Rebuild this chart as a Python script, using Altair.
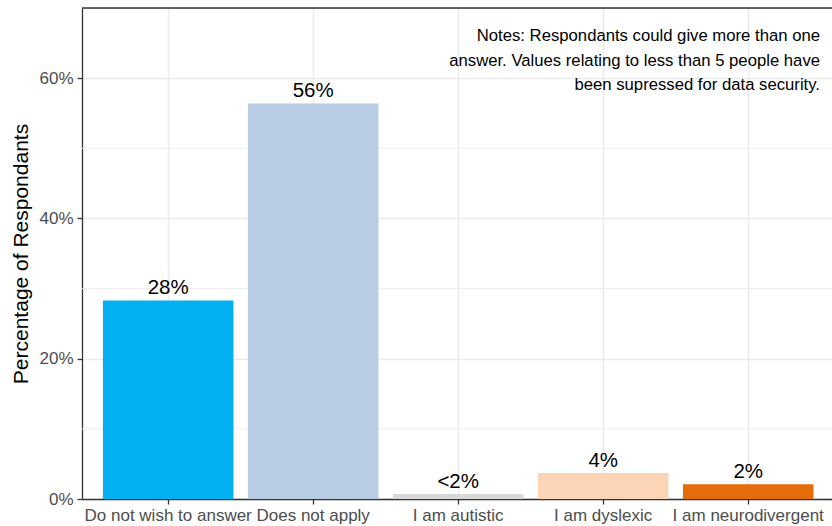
import altair as alt
import pandas as pd

categories = ["Do not wish to answer", "Does not apply", "I am autistic",
              "I am dyslexic", "I am neurodivergent"]
values = [0.283, 0.564, 0.007, 0.037, 0.021]
labels = ["28%", "56%", "<2%", "4%", "2%"]
colors = ["#00B0F0", "#B8CCE4", "#D9D9D9", "#FBD5B5", "#E46C0A"]
major_breaks = [0, 0.2, 0.4, 0.6]
minor_breaks = [0.1, 0.3, 0.5]
y_max = 0.7
note_lines = ["Notes: Respondants could give more than one",
              "answer. Values relating to less than 5 people have",
              "been supressed for data security."]

FONT = "Liberation Sans"

df = pd.DataFrame({"category": categories, "value": values, "label": labels})
minor_df = pd.DataFrame({"v": minor_breaks})
note_df = pd.DataFrame({"n": [0]})

x_enc = alt.X(
    "category:N", sort=categories,
    scale=alt.Scale(paddingInner=0.1, paddingOuter=0.136, align=0.53),
    axis=alt.Axis(title=None, labelAngle=0, bandPosition=0.5, grid=True,
                  gridColor="#EBEBEB", gridWidth=1.5,
                  domainColor="#333333", domainWidth=1.3,
                  tickColor="#333333", tickSize=5, tickWidth=1.3,
                  labelColor="#4D4D4D", labelFontSize=17, labelFont=FONT,
                  labelPadding=3),
)
y_scale = alt.Scale(domain=[0, y_max], nice=False, zero=True)
y_enc = alt.Y(
    "value:Q", scale=y_scale,
    axis=alt.Axis(title="Percentage of Respondants", values=major_breaks,
                  format=".0%", grid=True, gridColor="#EBEBEB", gridWidth=1.5,
                  domainColor="#333333", domainWidth=1.3,
                  tickColor="#333333", tickSize=5, tickWidth=1.3,
                  labelColor="#4D4D4D", labelFontSize=17, labelFont=FONT,
                  labelPadding=4, titleFont=FONT, titleFontSize=21,
                  titleFontWeight="normal", titleColor="#000000",
                  titlePadding=7),
)

minor = alt.Chart(minor_df).mark_rule(color="#EBEBEB", strokeWidth=0.9).encode(
    y=alt.Y("v:Q", scale=y_scale)
)

bars = alt.Chart(df).mark_bar().encode(
    x=x_enc, y=y_enc,
    color=alt.Color("category:N", scale=alt.Scale(domain=categories, range=colors),
                    legend=None),
)

text = alt.Chart(df).mark_text(baseline="alphabetic", dy=-6, fontSize=20.5,
                               font=FONT, color="#000000").encode(
    x=alt.X("category:N", sort=categories), y=alt.Y("value:Q"), text="label:N"
)

top_border = alt.Chart(note_df).mark_rule(color="#333333", strokeWidth=1.3).encode(
    y=alt.datum(y_max)
)

note = alt.Chart(note_df).mark_text(
    text=note_lines, align="right", baseline="middle", fontSize=16.7,
    lineHeight=24.5, font=FONT, color="#000000"
).encode(x=alt.value(738), y=alt.value(28))

chart = alt.layer(minor, bars, text, top_border, note).properties(
    width=750, height=491,
    padding={"left": 82, "top": 8, "right": 0, "bottom": 27},
    autosize=alt.AutoSizeParams(type="none"),
).configure_view(stroke=None).configure(background="white")

chart.save("out.html", embed_options={"renderer": "svg", "actions": False})
